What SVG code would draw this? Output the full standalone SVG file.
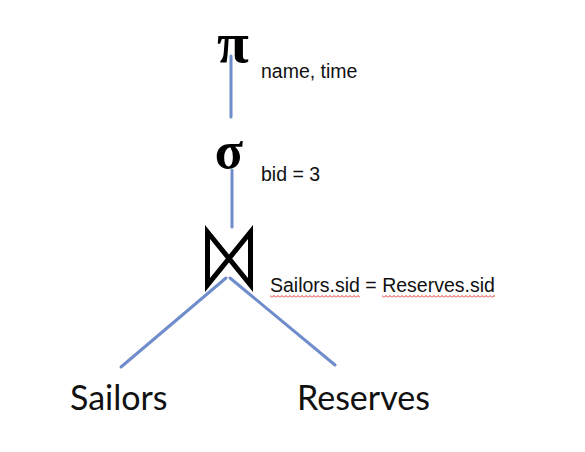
<svg xmlns="http://www.w3.org/2000/svg" width="585" height="452" viewBox="0 0 585 452">
<style>
.edge{stroke:#6f8ccb;stroke-width:3;fill:none;stroke-linecap:round}
.op{font-family:"Liberation Serif",serif;font-weight:bold;fill:#000}
.lbl{font-family:"Liberation Sans",Arial,sans-serif;font-size:19.5px;fill:#111}
.rel{font-family:Lato,"Open Sans",sans-serif;font-size:34px;fill:#111}
</style>
<defs>
<pattern id="wave" x="0" y="295" width="4" height="3" patternUnits="userSpaceOnUse">
<path d="M0,2.5 L2,0.5 L4,2.5" fill="none" stroke="#e03030" stroke-width="1"/>
</pattern>
</defs>
<rect width="585" height="452" fill="#fff"/>
<g id="connectors">
<line class="edge" x1="231" y1="56" x2="231" y2="117"/>
<line class="edge" x1="232" y1="170" x2="232" y2="227"/>
<line class="edge" x1="226" y1="278" x2="121" y2="367"/>
<line class="edge" x1="230" y1="278" x2="335" y2="365"/>
</g>
<g id="project">
<text class="op" x="233" y="62" font-size="58" text-anchor="middle">π</text>
<text class="lbl" x="261" y="78">name, time</text>
</g>
<g id="select">
<text class="op" x="229" y="168" font-size="52" text-anchor="middle">σ</text>
<text class="lbl" x="261" y="181">bid = 3</text>
</g>
<g id="join">
<path d="M207.5,232 L250.5,285 L250.5,232 L207.5,285 Z" fill="none" stroke="#000" stroke-width="5" stroke-linejoin="miter"/>
<text class="lbl" x="270" y="292">Sailors.sid = Reserves.sid</text>
<rect x="270" y="295" width="90" height="3" fill="url(#wave)"/>
<rect x="382" y="295" width="113" height="3" fill="url(#wave)"/>
</g>
<g id="sailors">
<text class="rel" x="70" y="410">Sailors</text>
</g>
<g id="reserves">
<text class="rel" x="297" y="410">Reserves</text>
</g>
</svg>
